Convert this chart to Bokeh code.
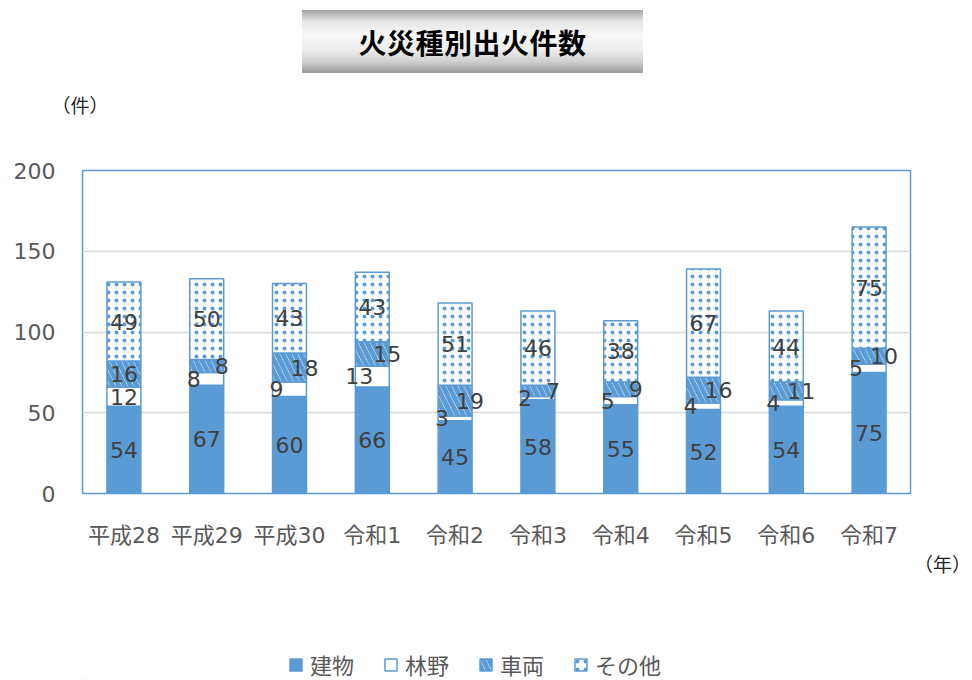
import numpy as np
from bokeh.plotting import figure
from bokeh.models import (ColumnDataSource, LabelSet, Legend, LegendItem,
                          Div, FixedTicker)
from bokeh.layouts import column
from bokeh.embed import file_html
from bokeh.resources import INLINE
from bokeh.core.properties import value

# ---- data ----
years = ["平成28", "平成29", "平成30", "令和1", "令和2", "令和3", "令和4", "令和5", "令和6", "令和7"]
building = [54, 67, 60, 66, 45, 58, 55, 52, 54, 75]
forest = [12, 8, 9, 13, 3, 2, 5, 4, 4, 5]
vehicle = [16, 8, 18, 15, 19, 7, 9, 16, 11, 10]
other = [49, 50, 43, 43, 51, 46, 38, 67, 44, 75]
series_names = ["建物", "林野", "車両", "その他"]
y_ticks = [0, 50, 100, 150, 200]
title_text = "火災種別出火件数"
y_unit = "（件）"
x_unit = "（年）"

BLUE = "#5B9BD5"
NUM_FONT_S = "DejaVu Sans, Noto Sans CJK JP"
JP_FONT_S = "Noto Sans CJK JP"
NUM_FONT = value(NUM_FONT_S)
W = 972

# ---- top: title box + unit ----
top_div = Div(
    text=(
        '<div style="position:relative;width:972px;height:120px;">'
        '<div style="position:absolute;left:302px;top:10px;width:341px;height:63px;'
        'background:linear-gradient(to bottom,#a4a4a4 0%,#e6e6e6 18%,#f7f7f7 40%,'
        '#eeeeee 62%,#cfcfcf 82%,#9a9a9a 100%);display:flex;align-items:center;'
        'justify-content:center;font-family:\'Noto Sans CJK JP\',sans-serif;'
        'font-weight:bold;font-size:28px;color:#000;letter-spacing:0.5px;">'
        f'{title_text}</div>'
        '<div style="position:absolute;left:50px;top:92px;width:60px;text-align:center;'
        'font-family:\'Noto Sans CJK JP\',sans-serif;font-size:19px;color:#262626;'
        f'line-height:26px;">{y_unit}</div>'
        '</div>'
    ),
    width=W, height=120, margin=0,
)

# ---- main chart ----
p = figure(
    x_range=years, y_range=(0, 200), width=W, height=432,
    output_backend="svg", toolbar_location=None,
    min_border_left=82, min_border_right=62, min_border_top=50, min_border_bottom=59,
)
p.outline_line_color = BLUE
p.outline_line_width = 1.5
p.xgrid.grid_line_color = None
p.ygrid.grid_line_color = "#d9d9d9"
p.ygrid.grid_line_width = 1.3
p.yaxis.ticker = FixedTicker(ticks=y_ticks)
for ax in (p.xaxis, p.yaxis):
    ax.axis_line_color = None
    ax.major_tick_line_color = None
    ax.minor_tick_line_color = None
    ax.major_tick_out = 0
    ax.major_tick_in = 0
    ax.minor_tick_out = 0
    ax.axis_label_standoff = 0
    ax.major_label_text_font = NUM_FONT_S
    ax.major_label_text_font_size = "22px"
    ax.major_label_text_color = "#595959"
p.yaxis.major_label_standoff = 27
p.xaxis.major_label_standoff = 29

series = [building, forest, vehicle, other]
styles = [
    dict(fill_color=BLUE, line_color=BLUE),
    dict(fill_color="white", line_color=BLUE),
    dict(fill_color="white", line_color=BLUE, hatch_pattern="\\", hatch_color=BLUE,
         hatch_scale=12, hatch_weight=5),
    dict(fill_color="white", line_color=BLUE, hatch_pattern=".", hatch_color=BLUE,
         hatch_scale=8, hatch_weight=0.8),
]
label_shift = [0, -13, 15, 0]   # horizontal nudge of the data labels per series (px)

cum = np.zeros(len(years))
for i, vals in enumerate(series):
    vals = np.array(vals, dtype=float)
    bottom = cum.copy()
    top = cum + vals
    src = ColumnDataSource(dict(
        x=years, bottom=bottom, top=top, mid=(bottom + top) / 2,
        txt=[str(int(v)) for v in vals],
        dx=[0 if j == 0 else label_shift[i] for j in range(len(years))],
    ))
    p.vbar(x="x", bottom="bottom", top="top", width=0.41, source=src,
           line_width=1.5, **styles[i])
    p.add_layout(LabelSet(x="x", y="mid", text="txt", x_offset="dx", source=src,
                          text_align="center", text_baseline="middle",
                          text_font=NUM_FONT, text_font_size="22px",
                          text_color="#404040"))
    cum = top

# ---- x unit ----
nen_div = Div(
    text=(
        '<div style="position:relative;width:972px;height:24px;">'
        '<div style="position:absolute;right:1px;top:0px;text-align:right;'
        'font-family:\'Noto Sans CJK JP\',sans-serif;font-size:19px;color:#262626;'
        f'line-height:24px;white-space:nowrap;">{x_unit}</div></div>'
    ),
    width=W, height=24, margin=0,
)

# ---- legend strip (frame aligned with the chart's frame by the column layout) ----
q = figure(
    x_range=(0, 10), y_range=(0, 10), width=W, height=104,
    output_backend="svg", toolbar_location=None,
    x_axis_location=None, y_axis_location=None,
    min_border_left=82, min_border_right=62, min_border_top=0, min_border_bottom=0,
)
q.outline_line_color = None
q.grid.grid_line_color = None
# legend proxies: one bar each, kept far outside the visible range
leg_renderers = [q.vbar(x=[-100], bottom=[-100], top=[-99], width=1, line_width=1.5, **st)
                 for st in styles]

legend = Legend(
    items=[LegendItem(label=n, renderers=[r]) for n, r in zip(series_names, leg_renderers)],
    orientation="horizontal", location=(206, 0),
    spacing=29, glyph_width=15, glyph_height=15, label_standoff=7,
    padding=0, margin=0, label_height=22,
    label_text_font=JP_FONT_S, label_text_font_size="22px", label_text_color="#595959",
    border_line_alpha=0, background_fill_alpha=0,
)
q.add_layout(legend)

layout = column(top_div, p, nen_div, q, spacing=0)
open("out.html", "w").write(file_html(layout, INLINE))
